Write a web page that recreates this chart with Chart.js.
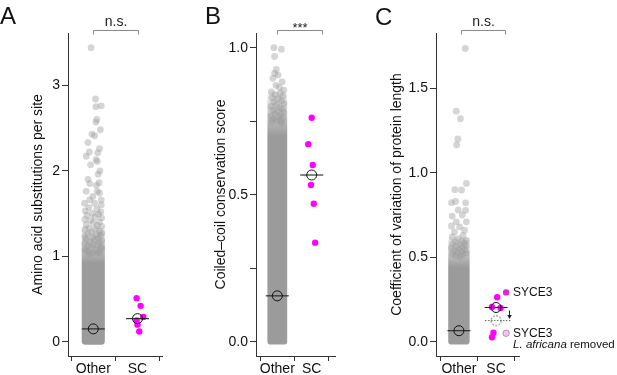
<!DOCTYPE html>
<html><head><meta charset="utf-8">
<script src="https://cdn.jsdelivr.net/npm/chart.js@4.4.1/dist/chart.umd.min.js"></script>
<style>
html,body{margin:0;padding:0;background:#fff;width:617px;height:375px;overflow:hidden}
canvas{position:absolute;top:0}
</style></head><body>
<canvas id="cA" width="200" height="375" style="left:0px"></canvas>
<canvas id="cB" width="175" height="375" style="left:200px"></canvas>
<canvas id="cC" width="242" height="375" style="left:375px"></canvas>
<script>
// ---------------- DATA ----------------
const categories = ['Other', 'SC'];

// Panel A: amino acid substitutions per site
const aYTicks = [0, 1, 2, 3];
const aYTickLabels = ['0', '1', '2', '3'];
const aOtherDense = [0, 1.30];      // extent of the dense cloud
const aOtherSolidTop = 0.92;        // where the dense cloud starts to thin
const aOtherOutY = [3.44,2.84,2.76,2.75,2.60,2.57,2.48,2.43,2.41,2.33,2.26,2.22,2.21,2.17,2.13,2.11,2.07,2.00,1.96,1.90,1.86,1.85,1.83,1.76,1.76,1.74,1.70,1.66,1.66,1.62,1.62,1.60,
  1.57,1.55,1.53,1.52,1.50,1.49,1.48,1.46,1.45,1.43,1.42,1.40,1.39,1.37,1.36,1.35,1.33,1.32,1.31,1.29,1.28,1.27,1.26,1.25,1.24,1.23,1.22,1.21,1.20,1.19,1.18,1.17,1.16,1.15,1.14,1.13,1.12,1.11,1.10,1.09,1.08,1.07,1.06,1.05,1.04,1.04,1.03];
const aOtherOutJitter = [-0.05,0.05,0.18,0.06,0.08,0.06,0.16,-0.03,0.03,-0.12,0.14,-0.09,0.10,-0.16,0.06,0.09,-0.06,0.15,0.11,-0.12,0.13,-0.08,0.07,-0.16,0.09,0.14,-0.01,-0.08,0.18,-0.20,0.03,0.18,
  -0.10,0.08,-0.18,0.17,-0.02,0.12,-0.14,0.04,0.19,-0.19,-0.06,0.14,0.00,-0.16,0.09,0.19,-0.09,0.05,-0.19,0.14,-0.04,0.19,-0.13,0.07,0.16,-0.19,-0.01,0.11,-0.16,0.03,0.19,-0.08,0.14,-0.19,0.00,0.09,-0.12,0.18,-0.05,0.19,-0.19,0.06,-0.15,0.15,-0.03,0.10,-0.09];
const aScY = [0.51, 0.42, 0.29, 0.25, 0.20, 0.12];
const aScJitter = [-0.02, 0.07, 0.13, -0.02, 0.00, 0.04];
const aMedians = [0.15, 0.27];

// Panel B: coiled-coil conservation score
const bYTicks = [0, 0.25, 0.5, 0.75, 1.0];
const bYTickLabels = ['0.0', '', '0.5', '', '1.0'];
const bOtherDense = [0, 0.84];
const bOtherSolidTop = 0.70;
const bOtherOutY = [1.00,0.995,0.97,0.926,0.913,0.907,0.896,0.884,0.872,0.865,0.856,0.85,0.845,0.84,0.835,0.83,0.826,0.82,0.815,0.81,0.806,0.80,0.797,0.792,0.788,0.784,0.78,0.776,0.772,0.768,0.764,0.76,0.757,0.753,0.75,0.747,0.744];
const bOtherOutJitter = [-0.10,0.12,-0.08,-0.03,-0.08,0.02,-0.13,0.14,-0.04,0.06,0.19,-0.17,0.09,-0.06,0.16,-0.15,0.02,0.12,-0.10,0.19,-0.02,-0.18,0.07,0.15,-0.12,0.00,0.18,-0.07,0.10,-0.18,0.04,0.16,-0.13,-0.02,0.09,-0.16,0.13];
const bScY = [0.762, 0.672, 0.601, 0.533, 0.469, 0.337];
const bScJitter = [0.00, -0.10, 0.03, -0.02, 0.06, 0.10];
const bMedians = [0.156, 0.567];

// Panel C: coefficient of variation of protein length
const cYTicks = [0, 0.5, 1.0, 1.5];
const cYTickLabels = ['0.0', '0.5', '1.0', '1.5'];
const cOtherDense = [0, 0.60];
const cOtherSolidTop = 0.44;
const cOtherOutY = [1.736,1.365,1.32,1.20,1.165,0.937,0.90,0.898,0.83,0.823,0.822,0.78,0.778,0.75,0.744,0.71,0.71,0.685,0.68,0.66,0.65,0.63,0.62,0.61,0.60,0.595,0.59,0.585,0.58,0.575,0.57,0.565,0.56,0.555,0.55,0.545,0.54,0.535,0.53,0.525,0.52,0.515,0.51,0.505];
const cOtherOutJitter = [0.17,-0.07,0.04,-0.03,-0.06,0.20,-0.11,0.07,-0.09,-0.20,0.18,-0.02,0.18,0.09,-0.18,-0.07,0.20,-0.20,0.02,0.15,-0.12,0.11,-0.18,-0.02,0.20,0.08,-0.10,0.15,-0.17,0.03,0.19,-0.06,0.11,-0.20,0.00,0.16,-0.13,0.07,-0.04,0.19,-0.17,0.10,-0.08,0.03];
const cScY = [0.292, 0.263, 0.205, 0.200, 0.053, 0.026];
const cScJitter = [0.27, 0.03, -0.11, 0.12, -0.07, -0.11];
const cScNames = ['SYCE3', '', '', '', '', ''];
const cMedians = [0.065, 0.2025];
const cRemovedY = [0.05];
const cRemovedJitter = [0.27];
const cRemovedMedian = 0.125;
const cRemovedLabel = ['SYCE3', 'L. africana', ' removed'];

// ---------------- STYLE ----------------
const FONT = '"Liberation Sans", Arial, Helvetica, sans-serif';
Chart.defaults.font.family = FONT;
const GRAY_SOLID = '#9b9b9b';
const GRAY_PT = 'rgba(155,155,155,0.42)';
const MAGENTA = '#ff00ff';
const PT_R = 3.4;
const MED_HALF = 11.5;

function dashedCircle(r) {
  const c = document.createElement('canvas');
  const s = Math.ceil(2 * r + 4);
  c.width = c.height = s;
  const g = c.getContext('2d');
  g.setLineDash([1.8, 1.5]);
  g.strokeStyle = '#555'; g.lineWidth = 1;
  g.beginPath(); g.arc(s / 2, s / 2, r, 0, Math.PI * 2); g.stroke();
  return c;
}

function makeChart(id, P) {
  const ds = [];
  const denseFill = (context) => {
    const chart = context.chart;
    if (!chart.chartArea) return GRAY_SOLID;
    const y = chart.scales.y;
    const g = chart.ctx.createLinearGradient(0, y.getPixelForValue(P.dense[1]) - PT_R, 0, y.getPixelForValue(P.solidTop));
    g.addColorStop(0, 'rgba(155,155,155,0.12)');
    g.addColorStop(0.55, 'rgba(155,155,155,0.6)');
    g.addColorStop(1, GRAY_SOLID);
    return g;
  };
  ds.push({type: 'bar', data: [{x: 1, y: P.dense}], backgroundColor: denseFill, barThickness: P.barW,
    inflateAmount: PT_R, borderRadius: PT_R, borderSkipped: false, borderWidth: 0, order: 10});
  ds.push({type: 'scatter', data: P.outY.map((y, i) => ({x: 1 + P.outJ[i], y})), pointRadius: PT_R,
    backgroundColor: GRAY_PT, borderWidth: 0, order: 9});
  ds.push({type: 'scatter', data: P.scY.map((y, i) => ({x: 2 + P.scJ[i], y})), pointRadius: 3.2,
    backgroundColor: P.scColors || MAGENTA, borderWidth: 0, order: 6});
  if (P.extraDatasets) P.extraDatasets.forEach(d => ds.push(d));
  ds.push({type: 'scatter', data: P.medians.map((m, i) => ({x: i + 1, y: m})), pointStyle: 'line',
    pointRadius: MED_HALF, borderColor: '#222', borderWidth: 1.1, order: 3});
  ds.push({type: 'scatter', data: P.medians.map((m, i) => ({x: i + 1, y: m})), pointStyle: 'circle',
    pointRadius: 5, backgroundColor: 'rgba(0,0,0,0)', borderColor: '#111', borderWidth: 1, order: 2});

  const annot = {
    id: 'annot',
    afterDraw(chart) {
      const ctx = chart.ctx, xs = chart.scales.x, ys = chart.scales.y;
      ctx.save();
      ctx.fillStyle = '#111';
      ctx.font = '24px ' + FONT; ctx.textAlign = 'left'; ctx.textBaseline = 'alphabetic';
      ctx.fillText(P.letter, P.letterPos[0], P.letterPos[1]);
      const x0 = Math.round(xs.getPixelForValue(P.bracket[0])) + 0.5;
      const x1 = Math.round(xs.getPixelForValue(P.bracket[1])) + 0.5;
      ctx.strokeStyle = '#8a8a8a'; ctx.lineWidth = 1;
      ctx.beginPath(); ctx.moveTo(x0, 34.5); ctx.lineTo(x0, 30.5); ctx.lineTo(x1, 30.5); ctx.lineTo(x1, 34.5); ctx.stroke();
      ctx.fillStyle = '#222'; ctx.font = P.sigFont; ctx.textAlign = 'center';
      ctx.fillText(P.sig, (x0 + x1) / 2, P.sigBaseline);
      if (P.extraDraw) P.extraDraw(chart, ctx, xs, ys);
      ctx.restore();
    }
  };

  return new Chart(document.getElementById(id), {
    type: 'scatter',
    data: {datasets: ds},
    options: {
      responsive: false, animation: false, events: [],
      layout: {padding: {left: 0, right: P.rightPad, top: 33, bottom: 0}},
      plugins: {legend: {display: false}, tooltip: {enabled: false}},
      scales: {
        x: {type: 'linear', min: P.xMin, max: P.xMax, offset: false,
          afterBuildTicks: s => { s.ticks = [{value: 1}, {value: 2}]; },
          ticks: {callback: (v, i) => categories[i], font: {size: 14}, color: '#111', padding: 0, maxRotation: 0, autoSkip: false},
          grid: {display: true, drawOnChartArea: false, drawTicks: true, tickLength: 5, color: '#333', lineWidth: 1},
          border: {display: true, color: '#333', width: 1},
          afterFit: s => { s.height = 19; }},
        y: {type: 'linear', min: P.yMin, max: P.yMax,
          afterBuildTicks: s => { s.ticks = P.yTicks.map(v => ({value: v})); },
          ticks: {callback: (v, i) => P.yTickLabels[i], font: {size: 14}, color: '#111', padding: 2, autoSkip: false},
          grid: {display: true, drawOnChartArea: false, drawTicks: true, tickLength: 6, color: '#333', lineWidth: 1},
          border: {display: true, color: '#333', width: 1},
          title: {display: true, text: P.yTitle, font: {size: 14}, color: '#111', padding: {top: P.titlePad, bottom: 0}},
          afterFit: s => { s.width = P.yAxisW; }}
      }
    },
    plugins: [annot]
  });
}

makeChart('cA', {
  letter: 'A', letterPos: [0, 24], bracket: [1, 2.0], sig: 'n.s.', sigFont: '14px ' + FONT, sigBaseline: 26,
  dense: aOtherDense, solidTop: aOtherSolidTop, outY: aOtherOutY, outJ: aOtherOutJitter, scY: aScY, scJ: aScJitter, medians: aMedians,
  barW: 16.3, yMin: -0.167, yMax: 3.612, xMin: 0.428, xMax: 2.554, yTicks: aYTicks, yTickLabels: aYTickLabels,
  yTitle: 'Amino acid substitutions per site', yAxisW: 68, titlePad: 29.6, rightPad: 38
});

makeChart('cB', {
  letter: 'B', letterPos: [5, 23.5], bracket: [1, 2.29], sig: '***', sigFont: '13px ' + FONT, sigBaseline: 31.5,
  dense: bOtherDense, solidTop: bOtherSolidTop, outY: bOtherOutY, outJ: bOtherOutJitter, scY: bScY, scJ: bScJitter, medians: bMedians,
  barW: 13, yMin: -0.0486, yMax: 1.05, xMin: 0.381, xMax: 2.677, yTicks: bYTicks, yTickLabels: bYTickLabels,
  yTitle: 'Coiled\u2013coil conservation score', yAxisW: 56, titlePad: 12.6, rightPad: 40
});

const dashImg = dashedCircle(5);
makeChart('cC', {
  letter: 'C', letterPos: [0, 25], bracket: [1.05, 2.23], sig: 'n.s.', sigFont: '14px ' + FONT, sigBaseline: 26,
  dense: cOtherDense, solidTop: cOtherSolidTop, outY: cOtherOutY, outJ: cOtherOutJitter, scY: cScY, scJ: cScJitter, medians: cMedians,
  scColors: cScNames.map(n => n ? '#d62ad6' : MAGENTA),
  barW: 14.6, yMin: -0.0847, yMax: 1.8277, xMin: 0.383, xMax: 2.617, yTicks: cYTicks, yTickLabels: cYTickLabels,
  yTitle: 'Coefficient of variation of protein length', yAxisW: 61, titlePad: 14.1, rightPad: 98,
  extraDatasets: [
    {type: 'scatter', data: cRemovedY.map((y, i) => ({x: 2 + cRemovedJitter[i], y})), pointRadius: 3.2,
      backgroundColor: '#f2c6f2', borderColor: '#a878a8', borderWidth: 0.8, order: 6},
    {type: 'line', data: [{x: 2 - 0.30, y: cRemovedMedian}, {x: 2 + 0.42, y: cRemovedMedian}], borderColor: '#666',
      borderWidth: 1, borderDash: [1.5, 1.5], pointRadius: 0, order: 4},
    {type: 'scatter', data: [{x: 2, y: cRemovedMedian}], pointStyle: dashImg, pointRadius: 5, order: 4}
  ],
  extraDraw: (chart, ctx, xs, ys) => {
    ctx.fillStyle = '#111'; ctx.textAlign = 'left'; ctx.textBaseline = 'middle';
    ctx.font = '12px ' + FONT;
    cScNames.forEach((n, i) => {
      if (!n) return;
      ctx.fillText(n, xs.getPixelForValue(2 + cScJitter[i]) + 7, ys.getPixelForValue(cScY[i]) + 0.5);
    });
    const rx = xs.getPixelForValue(2 + cRemovedJitter[0]) + 7, ry = ys.getPixelForValue(cRemovedY[0]);
    ctx.fillText(cRemovedLabel[0], rx, ry);
    ctx.font = 'italic 11.5px ' + FONT;
    ctx.fillText(cRemovedLabel[1], rx, ry + 12);
    const w = ctx.measureText(cRemovedLabel[1]).width;
    ctx.font = '11.5px ' + FONT;
    ctx.fillText(cRemovedLabel[2], rx + w, ry + 12);
    // arrow from median to median without SYCE3 outlier
    const ax = Math.round(xs.getPixelForValue(2.36)) + 0.5;
    const y0 = ys.getPixelForValue(cMedians[1]) + 3, y1 = ys.getPixelForValue(cRemovedMedian) - 1.5;
    ctx.strokeStyle = '#222'; ctx.lineWidth = 1;
    ctx.beginPath(); ctx.moveTo(ax, y0); ctx.lineTo(ax, y1 - 3); ctx.stroke();
    ctx.fillStyle = '#222';
    ctx.beginPath(); ctx.moveTo(ax - 2.3, y1 - 4); ctx.lineTo(ax + 2.3, y1 - 4); ctx.lineTo(ax, y1); ctx.closePath(); ctx.fill();
  }
});
</script>
</body></html>
